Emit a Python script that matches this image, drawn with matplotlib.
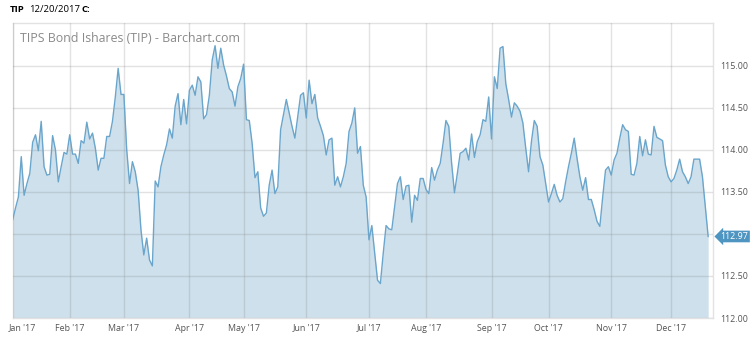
import numpy as np
import matplotlib.pyplot as plt
from matplotlib.transforms import offset_copy

plt.rcParams['font.family'] = ['Open Sans', 'DejaVu Sans']

# daily closes (trading days), 2017
jan = [113.17, 113.31, 113.44, 113.92, 113.46, 113.60, 113.72, 114.09, 114.18, 113.99,
       114.34, 113.80, 113.70, 113.71, 114.17, 114.00, 113.62, 113.80, 113.97, 113.95]
feb = [114.18, 113.95, 113.95, 113.84, 114.11, 114.08, 114.33, 114.13, 114.20, 114.02,
       113.76, 113.90, 113.90, 114.16, 114.16, 114.34, 114.63, 114.97, 114.66]
mar = [114.66, 114.00, 113.60, 113.86, 113.74, 113.52, 113.05, 112.75, 112.95, 112.69,
       112.62, 113.63, 113.56, 113.80, 113.94, 114.06, 114.25, 114.14, 114.52, 114.67,
       114.30, 114.60, 114.31]
apr = [114.71, 114.77, 114.65, 114.87, 114.81, 114.37, 114.42, 114.65, 115.07, 115.24,
       114.97, 115.21, 115.01, 114.88, 114.73, 114.69, 114.52, 114.75, 114.85]
may = [115.02, 114.36, 114.35, 114.08, 113.67, 113.74, 113.31, 113.21, 113.25, 113.58,
       113.76, 113.48, 113.56, 114.24, 114.42, 114.60, 114.44, 114.28, 114.14, 114.40,
       114.65, 114.68]
jun = [114.38, 114.83, 114.55, 114.66, 114.38, 114.28, 114.17, 113.94, 114.12, 114.14,
       113.58, 113.68, 113.56, 113.68, 113.84, 114.22, 114.32, 114.50, 113.96, 114.04,
       113.58, 113.44]
jul = [112.93, 113.10, 112.77, 112.45, 112.41, 112.77, 113.10, 113.06, 113.05, 113.33,
       113.60, 113.68, 113.41, 113.57, 113.58, 113.14, 113.46, 113.40, 113.66, 113.66]
aug = [113.53, 113.48, 113.79, 113.64, 113.76, 113.84, 114.08, 114.35, 114.28, 113.84,
       113.49, 113.72, 113.96, 113.98, 114.02, 113.88, 114.19, 113.91, 114.10, 114.18,
       114.36, 114.34, 114.63]
sep = [114.13, 114.87, 114.73, 115.21, 115.23, 114.79, 114.60, 114.39, 114.56, 114.52,
       114.46, 114.32, 114.02, 113.74, 114.10, 114.35, 114.28, 113.92, 113.82, 113.60]
oct_ = [113.38, 113.48, 113.59, 113.46, 113.38, 113.42, 113.62, 113.80, 113.96, 114.14,
        113.90, 113.68, 113.52, 113.67, 113.41, 113.41, 113.29, 113.15, 113.09, 113.44,
        113.76, 113.80]
nov = [113.70, 113.88, 113.96, 114.14, 114.30, 114.24, 114.22, 113.71, 113.70, 113.84,
       114.16, 113.93, 114.12, 113.95, 113.94, 114.28, 114.15, 114.13, 114.11, 113.82,
       113.68]
dec = [113.62, 113.66, 113.76, 113.89, 113.74, 113.68, 113.60, 113.68, 113.89, 113.89,
       113.89, 113.68, 113.33, 112.97]

months = [jan, feb, mar, apr, may, jun, jul, aug, sep, oct_, nov, dec]
month_labels = ["Jan '17", "Feb '17", "Mar '17", "Apr '17", "May '17", "Jun '17",
                "Jul '17", "Aug '17", "Sep '17", "Oct '17", "Nov '17", "Dec '17"]
y_ticks = [112.0, 112.5, 113.0, 113.5, 114.0, 114.5, 115.0]

close = np.concatenate(months)
x = np.arange(len(close))
month_starts = np.cumsum([0] + [len(m) for m in months[:-1]])
last = close[-1]

fig = plt.figure(figsize=(7.5, 3.39), dpi=100)
ax = fig.add_axes([12.7 / 750, 1 - 318 / 339, (713 - 12.7) / 750, (318 - 23) / 339])

ax.fill_between(x, close, 112.0, color='#cde0eb', lw=0, zorder=1)
ax.plot(x, close, color='#6aa5cc', lw=1.0, zorder=3)

ax.set_xlim(0, 245.7)
ax.set_ylim(112.0, 115.51)

ax.set_xticks(month_starts)
ax.set_xticklabels(month_labels)
ax.set_yticks(y_ticks)
# the label nearest to the last price is hidden behind the badge
ax.set_yticklabels(['' if abs(v - last) < 0.15 else '%.2f' % v for v in y_ticks])
ax.yaxis.tick_right()
ax.tick_params(axis='both', length=0, labelsize=6.4, colors='#555555')
ax.tick_params(axis='y', pad=5.5)
ax.tick_params(axis='x', pad=4)

# first month label sits to the right of its gridline
first = ax.get_xticklabels()[0]
first.set_ha('left')
first.set_transform(offset_copy(first.get_transform(), fig=fig, x=-4, units='dots'))

ax.grid(True, color='#8c8c8c', alpha=0.25, lw=1, zorder=2)
ax.set_axisbelow(False)
for s in ax.spines.values():
    s.set_color('#e2e2e2')
    s.set_linewidth(1)

ax.text(2.55, 115.33, 'TIPS Bond Ishares (TIP) - Barchart.com',
        fontsize=8.9, color='#8a8a8a', va='center', ha='left', zorder=5)

# last price badge
ax.annotate('%.2f' % last, xy=(1.0, last), xycoords=('axes fraction', 'data'),
            xytext=(5.5, 0), textcoords='offset points', va='center', ha='left',
            fontsize=6.4, color='white',
            bbox=dict(boxstyle='larrow,pad=0.15', fc='#4f95c2', ec='none'),
            annotation_clip=False)

# header
fig.text(10 / 750, 1 - 10 / 339, 'TIP', fontsize=6.8, fontweight='bold', va='center')
fig.text(29 / 750, 1 - 10 / 339, '12/20/2017', fontsize=6.8, va='center')
fig.text(81 / 750, 1 - 10 / 339, 'C:', fontsize=6.8, fontweight='bold', va='center')

fig.savefig('out.png', dpi=100)
